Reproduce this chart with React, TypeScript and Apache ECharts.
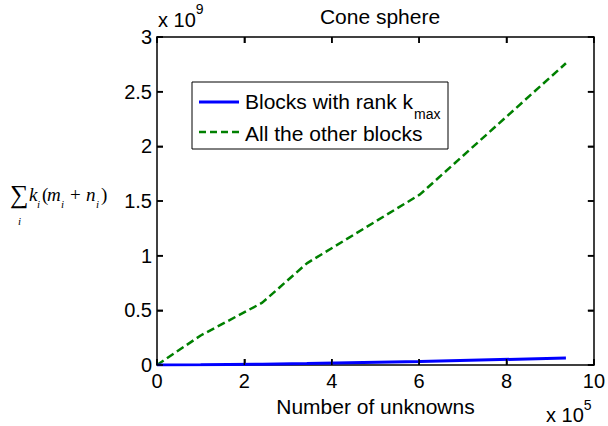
import React, { useEffect, useRef } from "react";
import * as echarts from "echarts";

// Number of unknowns, in units of 1e5
const unknowns = [0, 1.0, 2.41, 3.43, 6.02, 9.36];
// Storage sum_i k_i (m_i + n_i), in units of 1e9
const kmaxBlocks = [0, 0.002, 0.008, 0.013, 0.033, 0.063];
const otherBlocks = [0, 0.27, 0.57, 0.93, 1.56, 2.76];

const seriesNames = ["Blocks with rank kmax", "All the other blocks"];
const xTicks = [0, 2, 4, 6, 8, 10];
const yTicks = [0, 0.5, 1, 1.5, 2, 2.5, 3];
const xTickStep = 2;
const yTickStep = 0.5;
const X_MAX = 10;
const Y_MAX = 3;

const SANS = "'Liberation Sans', Arial, sans-serif";
const SERIF = "'Liberation Serif', 'Times New Roman', serif";
const TICK_LEN = 6;

const makeAxisLine = () => ({ show: true, onZero: false, lineStyle: { color: "#000000", width: 1.5 } });
const makeTick = () => ({ show: true, inside: true, length: TICK_LEN, lineStyle: { color: "#000000", width: 1.5 } });

export default function App() {
  const ref = useRef<HTMLDivElement>(null);

  useEffect(() => {
    if (!ref.current) return;
    const chart = echarts.init(ref.current, null, { renderer: "svg" });

    const it = (text: string, x: number, y: number, size = 19) => ({
      type: "text",
      x,
      y,
      style: { text, font: `italic ${size}px ${SERIF}`, fill: "#000", verticalAlign: "bottom" },
    });
    const rm = (text: string, x: number, y: number, size = 19) => ({
      type: "text",
      x,
      y,
      style: { text, font: `${size}px ${SERIF}`, fill: "#000", verticalAlign: "bottom" },
    });

    const tickStyle = { stroke: "#000", lineWidth: 1.5 };

    // Inward tick marks on the bottom and top edges of the box
    const xTickRender = (_params: any, api: any) => {
      const v = api.value(0);
      const b = api.coord([v, 0]);
      const t = api.coord([v, Y_MAX]);
      return {
        type: "group",
        children: [
          { type: "line", shape: { x1: b[0], y1: b[1], x2: b[0], y2: b[1] - TICK_LEN }, style: tickStyle },
          { type: "line", shape: { x1: t[0], y1: t[1], x2: t[0], y2: t[1] + TICK_LEN }, style: tickStyle },
        ],
      };
    };
    // Inward tick marks on the left and right edges of the box
    const yTickRender = (_params: any, api: any) => {
      const v = api.value(1);
      const l = api.coord([0, v]);
      const r = api.coord([X_MAX, v]);
      return {
        type: "group",
        children: [
          { type: "line", shape: { x1: l[0], y1: l[1], x2: l[0] + TICK_LEN, y2: l[1] }, style: tickStyle },
          { type: "line", shape: { x1: r[0], y1: r[1], x2: r[0] - TICK_LEN, y2: r[1] }, style: tickStyle },
        ],
      };
    };

    chart.setOption({
      animation: false,
      title: {
        text: "Cone sphere",
        left: 375,
        top: 1,
        textAlign: "center",
        textStyle: { fontFamily: SANS, fontSize: 21, fontWeight: "normal", color: "#000" },
      },
      grid: { left: 157, right: 11, top: 37, bottom: 61 },
      xAxis: [
        {
          type: "value",
          min: 0,
          max: X_MAX,
          interval: xTickStep,
          position: "bottom",
          axisLine: makeAxisLine(),
          axisTick: makeTick(),
          splitLine: { show: false },
          axisLabel: { color: "#000", fontFamily: SANS, fontSize: 20, margin: 6 },
          name: "Number of unknowns",
          nameLocation: "middle",
          nameGap: 28,
          nameTextStyle: { color: "#000", fontFamily: SANS, fontSize: 21, verticalAlign: "top" },
        },
        {
          type: "value",
          min: 0,
          max: X_MAX,
          interval: xTickStep,
          position: "top",
          axisLine: makeAxisLine(),
          axisTick: makeTick(),
          splitLine: { show: false },
          axisLabel: { show: false },
        },
      ],
      yAxis: [
        {
          type: "value",
          min: 0,
          max: Y_MAX,
          interval: yTickStep,
          position: "left",
          axisLine: makeAxisLine(),
          axisTick: makeTick(),
          splitLine: { show: false },
          axisLabel: {
            color: "#000",
            fontFamily: SANS,
            fontSize: 20,
            margin: 5,
            formatter: (v: number) => String(v),
          },
        },
        {
          type: "value",
          min: 0,
          max: Y_MAX,
          interval: yTickStep,
          position: "right",
          axisLine: makeAxisLine(),
          axisTick: makeTick(),
          splitLine: { show: false },
          axisLabel: { show: false },
        },
      ],
      series: [
        {
          type: "custom",
          name: "xTicks",
          xAxisIndex: 0,
          yAxisIndex: 0,
          data: xTicks.map((v) => [v, 0]),
          renderItem: xTickRender,
          silent: true,
          clip: false,
          z: 5,
        },
        {
          type: "custom",
          name: "yTicks",
          xAxisIndex: 0,
          yAxisIndex: 0,
          data: yTicks.map((v) => [0, v]),
          renderItem: yTickRender,
          silent: true,
          clip: false,
          z: 5,
        },
        {
          name: seriesNames[0],
          type: "line",
          data: unknowns.map((x, i) => [x, kmaxBlocks[i]]),
          showSymbol: false,
          lineStyle: { color: "#0000ff", width: 3 },
          z: 3,
        },
        {
          name: seriesNames[1],
          type: "line",
          data: unknowns.map((x, i) => [x, otherBlocks[i]]),
          showSymbol: false,
          lineStyle: { color: "#008000", width: 2.5, type: [8, 4] },
          z: 2,
        },
      ],
      graphic: [
        // Axis exponents
        {
          type: "text",
          x: 158,
          y: 2,
          style: {
            text: "{a|x 10}{b|9}",
            fill: "#000",
            rich: {
              a: { fontFamily: SANS, fontSize: 20, padding: [8, 0, 0, 0] },
              b: { fontFamily: SANS, fontSize: 14, verticalAlign: "top" },
            },
          },
        },
        {
          type: "text",
          x: 546,
          y: 398,
          style: {
            text: "{a|x 10}{b|5}",
            fill: "#000",
            rich: {
              a: { fontFamily: SANS, fontSize: 20, padding: [7, 0, 0, 0] },
              b: { fontFamily: SANS, fontSize: 14, verticalAlign: "top" },
            },
          },
        },
        // Y-axis quantity: sum_i k_i (m_i + n_i)
        rm("\u2211", 10, 207, 26),
        it("i", 18, 226, 11),
        it("k", 29, 204),
        it("i", 37, 209, 11),
        rm("(", 42, 204),
        it("m", 47, 204),
        it("i", 61, 209, 11),
        rm("+", 70, 204),
        it("n", 86, 204),
        it("i", 96, 209, 11),
        rm(")", 101, 204),
        // Legend
        {
          type: "rect",
          shape: { x: 192, y: 82, width: 256, height: 67 },
          style: { fill: "#fff", stroke: "#000", lineWidth: 1 },
          z: 10,
        },
        {
          type: "line",
          shape: { x1: 199, y1: 102, x2: 239, y2: 102 },
          style: { stroke: "#0000ff", lineWidth: 3 },
          z: 11,
        },
        {
          type: "line",
          shape: { x1: 199, y1: 132, x2: 239, y2: 132 },
          style: { stroke: "#008000", lineWidth: 2.5, lineDash: [7, 4] },
          z: 11,
        },
        {
          type: "text",
          x: 245,
          y: 101,
          style: { text: "Blocks with rank k", font: `21px ${SANS}`, fill: "#000", verticalAlign: "middle" },
          z: 11,
        },
        {
          type: "text",
          x: 414,
          y: 114,
          style: { text: "max", font: `14px ${SANS}`, fill: "#000", verticalAlign: "middle" },
          z: 11,
        },
        {
          type: "text",
          x: 245,
          y: 133,
          style: { text: "All the other blocks", font: `21px ${SANS}`, fill: "#000", verticalAlign: "middle" },
          z: 11,
        },
      ],
    });

    return () => chart.dispose();
  }, []);

  return (
    <div
      ref={ref}
      style={{ position: "fixed", left: 0, top: 0, width: 608, height: 426, background: "#fff" }}
    />
  );
}
